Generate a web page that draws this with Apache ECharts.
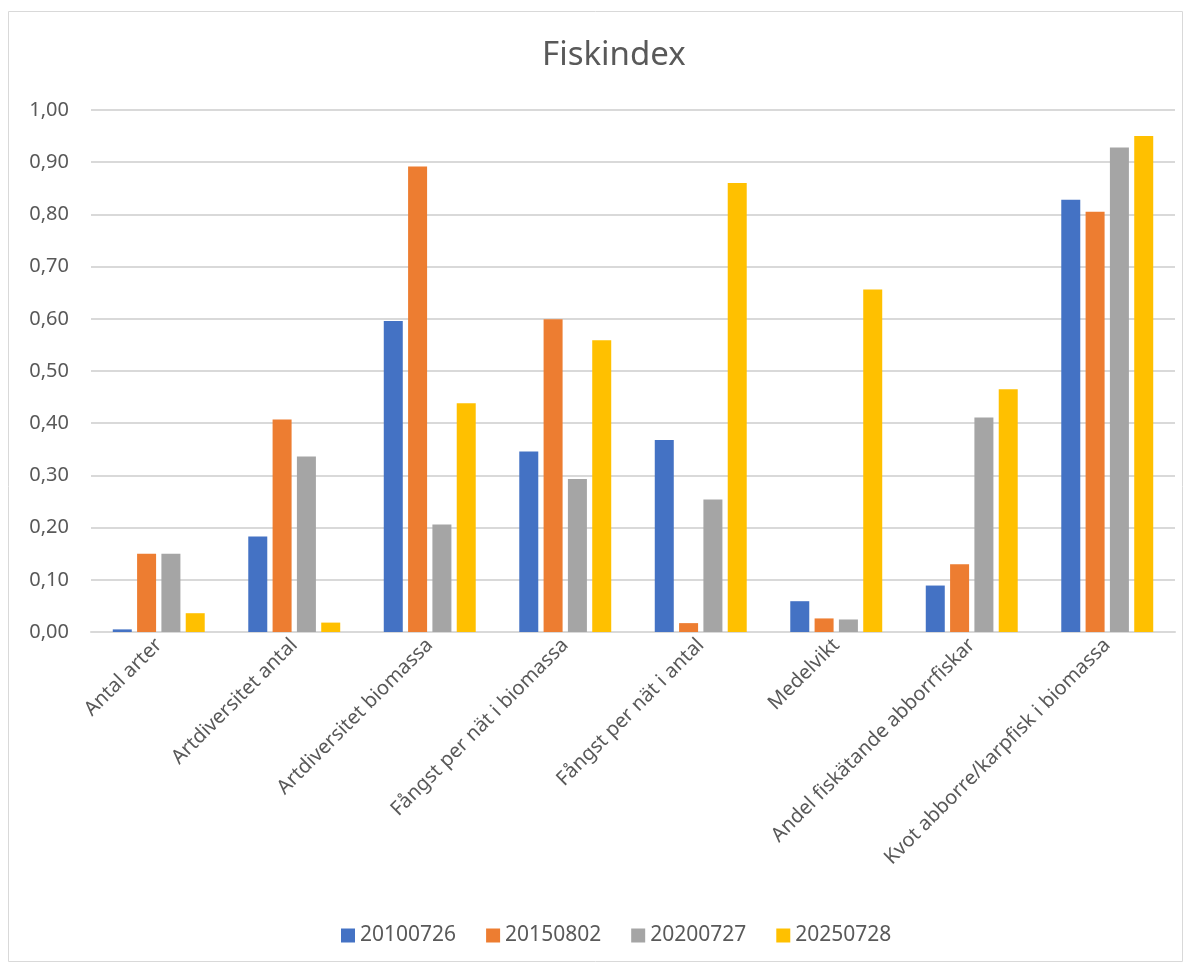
<!DOCTYPE html>
<html>
<head>
<meta charset="utf-8">
<style type="text/css">
html, body { margin: 0; padding: 0; background: #fff; }
.chart { width: 1191px; height: 968px; }
</style>
<script type="text/javascript" src="https://cdn.jsdelivr.net/npm/echarts@6/dist/echarts.min.js"></script>
</head>
<body>
<div class="chart" id="chart"></div>
<script type="text/javascript">
var categories = ['Antal arter', 'Artdiversitet antal', 'Artdiversitet biomassa',
	'Fångst per nät i biomassa', 'Fångst per nät i antal', 'Medelvikt',
	'Andel fiskätande abborrfiskar', 'Kvot abborre/karpfisk i biomassa'];
var seriesNames = ['20100726', '20150802', '20200727', '20250728'];
var v2010 = [0.005, 0.183, 0.596, 0.346, 0.368, 0.059, 0.089, 0.828];
var v2015 = [0.150, 0.407, 0.892, 0.599, 0.017, 0.026, 0.130, 0.805];
var v2020 = [0.150, 0.336, 0.206, 0.293, 0.254, 0.024, 0.411, 0.928];
var v2025 = [0.036, 0.018, 0.438, 0.559, 0.860, 0.656, 0.465, 0.950];
var colors = ['#4472C4', '#ED7D31', '#A5A5A5', '#FFC000'];

var font = 'Noto Sans, Liberation Sans, sans-serif';
var chart = echarts.init(document.getElementById('chart'));

var all = [v2010, v2015, v2020, v2025];
var series = all.map(function (arr, i) {
	return {
		name: seriesNames[i],
		type: 'bar',
		data: arr,
		barWidth: 19,
		barGap: '28%',
		itemStyle: { color: colors[i] }
	};
});

chart.setOption({
	animation: false,
	color: colors,
	textStyle: { fontFamily: font },
	title: {
		text: 'Fiskindex',
		left: 537,
		top: 34,
		textStyle: { color: '#595959', fontSize: 33, fontWeight: 'normal', fontFamily: font }
	},
	graphic: [{
		type: 'rect',
		shape: { x: 8.5, y: 11.5, width: 1174, height: 950 },
		style: { fill: null, stroke: '#d9d9d9', lineWidth: 1 },
		silent: true
	}],
	grid: { left: 91, right: 16, top: 110, height: 522, containLabel: false },
	legend: {
		data: seriesNames,
		bottom: 17,
		left: 336,
		itemWidth: 14,
		itemHeight: 14,
		itemGap: 30,
		icon: 'rect',
		textStyle: { color: '#595959', fontSize: 21, fontFamily: font }
	},
	xAxis: {
		type: 'category',
		data: categories,
		axisTick: { show: false },
		axisLine: { lineStyle: { color: '#d9d9d9', width: 2 } },
		axisLabel: {
			rotate: 45,
			interval: 0,
			color: '#595959',
			fontSize: 20,
			fontFamily: font,
			margin: 10
		}
	},
	yAxis: {
		type: 'value',
		min: 0,
		max: 1,
		interval: 0.1,
		axisLine: { show: false },
		axisTick: { show: false },
		splitLine: { lineStyle: { color: '#d9d9d9', width: 2 } },
		axisLabel: {
			color: '#595959',
			fontSize: 20,
			fontFamily: font,
			margin: 22,
			formatter: function (v) { return v.toFixed(2).replace('.', ','); }
		}
	},
	series: series
});
</script>
</body>
</html>
